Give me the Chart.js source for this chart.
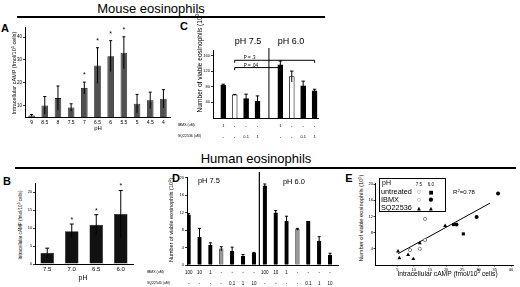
<!DOCTYPE html>
<html><head><meta charset="utf-8">
<script src="https://cdn.jsdelivr.net/npm/chart.js@4.4.0/dist/chart.umd.min.js"></script>
<style>
html,body{margin:0;padding:0;background:#fff;}
#root{position:relative;width:520px;height:287px;overflow:hidden;font-family:'Liberation Sans',Arial,Helvetica,sans-serif;color:#000;}
.box{position:absolute;}
.t{position:absolute;white-space:nowrap;line-height:1;transform:translate(-50%,-50%);}
.tl{position:absolute;white-space:nowrap;line-height:1;transform:translate(0,-50%);}
.hl{position:absolute;background:#000;}
sup{font-size:70%;vertical-align:0.5em;line-height:0;}
</style></head><body><div id="root"></div>
<script>
// ================= DATA =================
// Panel A – mouse eosinophils, intracellular cAMP vs pH
const phA = ['9','8.5','8','7.5','7','6.5','6','5.5','5','4.5','4'];
const campA = [5.6, 10.0, 13.2, 9.1, 17.6, 27.5, 31.6, 33.1, 10.7, 12.2, 12.9];
const errA  = [0.4, 3.9, 5.3, 1.6, 2.6, 7.8, 6.8, 7.0, 4.1, 3.6, 4.0];
const sigA  = [0,0,0,0,1,1,1,1,0,0,0];
const ticksA = [10,20,30,40];

// Panel B – human eosinophils, intracellular cAMP vs pH
const phB = ['7.5','7.0','6.5','6.0'];
const campB = [3.1, 9.1, 10.9, 13.9];
const errB  = [1.3, 2.0, 2.8, 6.5];
const sigB  = [0,1,1,1];
const ticksB = [0,5,10,15,20];

// Panel C – mouse, viable eosinophils (blank slot = pH separator)
const ibmxC = ['1','-','-','-','','1','-','-','-'];
const sqC   = ['-','-','0.1','1','','-','-','0.1','1'];
const viableC = [84, 59.4, 50, 42.5, null, 135.8, 106, 82.3, 69.6];
const errC    = [2.5, 1.0, 11, 14, null, 10, 14, 12, 4];
const ticksC = [40,80,120,160];
const sepC = 4;
const pLinesC = [
  {from:1, to:8, level:147.7, label:'P = .3'},
  {from:1, to:5, level:129, label:'P = .04'}
];

// Panel D – human, viable eosinophils
const ibmxD = ['100','10','1','-','-','-','-','100','10','1','-','-','-','-'];
const sqD   = ['-','-','-','-','0.1','1','10','-','-','-','-','0.1','1','10'];
const viableD = [11.5, 6.4, 4.5, 3.7, 3.2, 2.0, 2.8, 18.2, 12.0, 10.1, 8.2, 10.0, 5.5, 2.2];
const errD    = [0.3, 2.0, 0.6, 0.5, 0.9, 0.4, 0.1, 0.4, 0.5, 1.1, 0.2, 0, 1.0, 0.5];
const ticksD = [0,4,8,12,16,20];
const sepD = 6.5;

// Panel E – viable eosinophils vs cAMP
const untreated75X = [13.5, 8.9],  untreated75Y = [11.4, 3.7];
const ibmx75X = [13.5, 11.9],      ibmx75Y = [6.2, 4.0];
const untreated60X = [25.3, 22.3], untreated60Y = [7.7, 10.0];
const ibmx60X = [36.0, 29.4, 23.2], ibmx60Y = [17.7, 11.9, 10.0];
const sq75X = [8.3, 9.9, 5.6],     sq75Y = [2.5, 1.5, 1.7];
const sq60X = [19.7, 11.9, 5.2],   sq60Y = [9.7, 5.4, 3.4];
const fitX = [5.2, 33.5],          fitY = [2.8, 15.3];
const ticksEx = [5,10,15,20,25,30,35,40];
const ticksEy = [4,8,12,16,20];

// ================= HELPERS =================
const root = document.getElementById('root');
const FONT = "'Liberation Sans', Arial, Helvetica, sans-serif";
Chart.defaults.font.family = FONT;
Chart.defaults.color = '#000';

function zip(xs, ys){ return xs.map((x,i)=>({x:x, y:ys[i]})); }

function panel(x, y, w, h, cfg){
  const d = document.createElement('div'); d.className='box';
  d.style.cssText = `left:${x}px;top:${y}px;width:${w}px;height:${h}px;`;
  const c = document.createElement('canvas'); c.width=w; c.height=h;
  c.style.width=w+'px'; c.style.height=h+'px';
  d.appendChild(c); root.appendChild(d);
  cfg.options.responsive=false; cfg.options.animation=false; cfg.options.devicePixelRatio=1;
  cfg.options.layout = Object.assign({autoPadding:false}, cfg.options.layout||{});
  cfg.options.plugins = Object.assign({legend:{display:false}, tooltip:{enabled:false}}, cfg.options.plugins||{});
  return new Chart(c, cfg);
}
function txt(html, x, y, size, o={}){
  const d = document.createElement('div');
  d.className = o.left ? 'tl' : 't';
  d.innerHTML = html;
  d.style.left=x+'px'; d.style.top=y+'px'; d.style.fontSize=size+'px';
  if (o.bold) d.style.fontWeight='bold';
  if (o.rot) d.style.transform='translate(-50%,-50%) rotate(-90deg)';
  if (o.color) d.style.color=o.color;
  if (o.family) d.style.fontFamily=o.family;
  root.appendChild(d); return d;
}
function hline(x, y, w, h){
  const d=document.createElement('div'); d.className='hl';
  d.style.cssText=`left:${x}px;top:${y}px;width:${w}px;height:${h}px;`;
  root.appendChild(d);
}
function yAxis(o){
  return {
    position:'left', min:o.min, max:o.max,
    border:{display:true, color:'#000', width:1},
    grid:{display:true, drawOnChartArea:false, drawTicks:true, tickLength:o.tl==null?2:o.tl, color:'#000', lineWidth:0.8},
    ticks:{color:'#000', font:{size:o.fs}, padding:o.pad==null?1:o.pad, autoSkip:false},
    afterFit(s){ s.width=o.w; },
    afterBuildTicks(s){ s.ticks=o.ticks.map(v=>({value:v})); }
  };
}

// error bars + significance stars
Chart.register({
  id:'errbars',
  afterDatasetsDraw(chart, args, opts){
    if (!opts || !opts.err) return;
    const ctx=chart.ctx, ys=chart.scales.y;
    const meta=chart.getDatasetMeta(0);
    const vals=chart.data.datasets[0].data;
    ctx.save();
    ctx.strokeStyle='#000'; ctx.lineWidth=opts.lw||1;
    meta.data.forEach((el,i)=>{
      const raw=vals[i]; const v=(raw&&typeof raw==='object')?raw.y:raw;
      if (v==null) return;
      const e=opts.err[i]||0; const x=el.x;
      const yt=ys.getPixelForValue(v+e), yb=ys.getPixelForValue(v-e);
      if (e>0){
        ctx.beginPath(); ctx.moveTo(x,yb); ctx.lineTo(x,yt);
        ctx.moveTo(x-opts.cap/2,yt); ctx.lineTo(x+opts.cap/2,yt); ctx.stroke();
      }
      if (opts.sig && opts.sig[i]){
        ctx.fillStyle='#000'; ctx.font=`${opts.starSize}px ${FONT}`;
        ctx.textAlign='center'; ctx.textBaseline='alphabetic';
        ctx.fillText('*', x, yt-opts.gap+opts.starSize*0.55);
      }
    });
    ctx.restore();
  }
});

// ================= TITLES =================
txt('Mouse eosinophils', 151, 8, 13);
hline(17, 16, 308, 1.5);
txt('Human eosinophils', 256, 158, 13);
hline(15, 167, 501, 1.5);
txt('A', 5, 28, 11, {bold:true});
txt('C', 184, 26, 11, {bold:true});
txt('B', 7, 181, 11, {bold:true});
txt('D', 176, 178, 11, {bold:true});
txt('E', 349, 178, 11, {bold:true});

// ================= PANEL A =================
panel(11, 21, 163, 110, {
  type:'bar',
  data:{labels:phA, datasets:[{data:campA, backgroundColor:'#505050', borderColor:'#111', borderWidth:0.8,
    barPercentage:0.5, categoryPercentage:1}]},
  options:{
    layout:{padding:{top:6,right:4,left:0,bottom:0}},
    plugins:{errbars:{err:errA, sig:sigA, cap:3, gap:9, starSize:7}},
    scales:{
      x:{type:'category', offset:true, border:{color:'#000',width:1}, grid:{display:false, drawTicks:false},
         ticks:{color:'#000', font:{size:5}, padding:2.5, maxRotation:0, autoSkip:false},
         afterFit(s){ s.height=14; }},
      y:yAxis({min:4.9, max:44.4, ticks:ticksA, fs:4.5, w:14})
    }
  }
});
txt('Intracellular cAMP (fmol/10<sup>5</sup> cells)', 15, 73, 5.5, {rot:true});
txt('pH', 98, 127.5, 6);

// ================= PANEL B =================
panel(25, 178, 112, 98, {
  type:'bar',
  data:{labels:phB, datasets:[{data:campB, backgroundColor:'#111', borderColor:'#000', borderWidth:0.5,
    barPercentage:0.55, categoryPercentage:1}]},
  options:{
    layout:{padding:{top:5,right:4,left:0,bottom:0}},
    plugins:{errbars:{err:errB, sig:sigB, cap:4, gap:6, starSize:7}},
    scales:{
      x:{type:'category', offset:true, border:{color:'#000',width:1}, grid:{display:false, drawTicks:false},
         ticks:{color:'#000', font:{size:6}, padding:1.4, maxRotation:0, autoSkip:false},
         afterFit(s){ s.height=12; }},
      y:yAxis({min:0, max:22.5, ticks:ticksB, fs:4, w:10, pad:0.7})
    }
  }
});
txt('Intracellular cAMP (fmol/10<sup>5</sup> cells)', 20.7, 225, 4.6, {rot:true});
txt('pH', 83, 276.7, 7);

// ================= PANEL C =================
const colC = ibmxC.map((v,i)=> (v==='-' && sqC[i]==='-') ? '#fff' : '#000');
panel(201, 46, 120, 95, {
  type:'bar',
  data:{datasets:[{data:viableC.map((v,i)=>({x:i,y:v})), backgroundColor:colC, borderColor:'#000',
    borderWidth:0.8, barThickness:5}]},
  options:{
    layout:{padding:{top:4,right:3,left:0,bottom:0}},
    plugins:{errbars:{err:errC, cap:3.5, lw:1}},
    scales:{
      x:{type:'linear', offset:false, min:-0.9, max:8.3, border:{color:'#000',width:1},
         grid:{display:false, drawTicks:false, offset:false},
         ticks:{color:'#000', font:{size:4, lineHeight:'10.7px'}, padding:2.6, maxRotation:0, autoSkip:false,
           callback:(v)=>{const i=Math.round(v); return [ibmxC[i], sqC[i]];}},
         afterBuildTicks(s){ s.ticks=ibmxC.map((_,i)=>({value:i})); },
         afterFit(s){ s.height=23; }},
      y:yAxis({min:0, max:174, ticks:ticksC, fs:4, w:12})
    }
  },
  plugins:[{
    id:'extraC',
    afterDraw(chart){
      const ctx=chart.ctx, xs=chart.scales.x, ys=chart.scales.y, a=chart.chartArea;
      ctx.save(); ctx.strokeStyle='#000'; ctx.lineWidth=1;
      const sx=xs.getPixelForValue(sepC);
      ctx.beginPath(); ctx.moveTo(sx, a.top-2); ctx.lineTo(sx, a.bottom); ctx.stroke();
      ctx.font=`4.5px ${FONT}`; ctx.fillStyle='#000'; ctx.textAlign='left'; ctx.textBaseline='alphabetic';
      pLinesC.forEach(p=>{
        const x1=xs.getPixelForValue(p.from), x2=xs.getPixelForValue(p.to), y=ys.getPixelForValue(p.level);
        ctx.beginPath(); ctx.moveTo(x1,y+2.5); ctx.lineTo(x1,y); ctx.lineTo(x2,y); ctx.lineTo(x2,y+2.5); ctx.stroke();
        ctx.fillText(p.label, x1+9, y-1);
      });
      ctx.restore();
    }
  }]
});
txt('Number of viable eosinophils (10<sup>3</sup>)', 200, 62, 6.6, {rot:true});
txt('pH 7.5', 248, 40.7, 9);
txt('pH 6.0', 291, 40.7, 9);
txt('IBMX (uM)', 178, 126, 3.5, {left:true});
txt('SQ22536 (uM)', 178, 136.7, 3.5, {left:true});

// ================= PANEL D =================
const colD = ibmxD.map((v,i)=> (v==='-' && sqD[i]==='-') ? '#999' : '#000');
panel(177, 171, 164, 116, {
  type:'bar',
  data:{datasets:[{data:viableD.map((v,i)=>({x:i,y:v})), backgroundColor:colD, borderColor:'#000',
    borderWidth:0.5, barThickness:3.6}]},
  options:{
    layout:{padding:{top:6,right:3,left:0,bottom:0}},
    plugins:{errbars:{err:errD, cap:3, lw:1}},
    scales:{
      x:{type:'linear', offset:false, min:-0.15, max:13.73, border:{color:'#000',width:1},
         grid:{display:false, drawTicks:false, offset:false},
         ticks:{color:'#000', font:{size:4.5, lineHeight:'11px'}, padding:2, maxRotation:0, autoSkip:false,
           callback:(v)=>{const i=Math.round(v); return [ibmxD[i], sqD[i]];}},
         afterBuildTicks(s){ s.ticks=ibmxD.map((_,i)=>({value:i})); },
         afterFit(s){ s.height=22; }},
      y:yAxis({min:0, max:20.2, ticks:ticksD, fs:4, w:10})
    }
  },
  plugins:[{
    id:'extraD',
    afterDraw(chart){
      const ctx=chart.ctx, xs=chart.scales.x, a=chart.chartArea;
      ctx.save(); ctx.strokeStyle='#000'; ctx.lineWidth=1.2;
      const sx=xs.getPixelForValue(sepD);
      ctx.beginPath(); ctx.moveTo(sx, a.top-5); ctx.lineTo(sx, a.bottom); ctx.stroke();
      ctx.restore();
    }
  }]
});
txt('Number of viable eosinophils (10<sup>5</sup>)', 172, 220, 5.5, {rot:true});
txt('pH 7.5', 209, 181, 7.5);
txt('pH 6.0', 294, 181.5, 7.5);
txt('IBMX (uM)', 147, 273, 3.5, {left:true});
txt('SQ22540 (uM)', 147, 284, 3.5, {left:true});

// ================= PANEL E =================
const openPt = {pointStyle:'circle', pointRadius:1.6, pointBackgroundColor:'#fff', pointBorderColor:'#666', pointBorderWidth:0.8};
panel(367, 179, 150, 96, {
  type:'scatter',
  data:{datasets:[
    Object.assign({label:'untreated 7.5', data:zip(untreated75X, untreated75Y)}, openPt),
    Object.assign({label:'IBMX 7.5', data:zip(ibmx75X, ibmx75Y)}, openPt),
    {label:'untreated 6.0', data:zip(untreated60X, untreated60Y), pointStyle:'rect', pointRadius:2.2, pointBackgroundColor:'#000', pointBorderColor:'#000', pointBorderWidth:0},
    {label:'IBMX 6.0', data:zip(ibmx60X, ibmx60Y), pointStyle:'circle', pointRadius:2, pointBackgroundColor:'#000', pointBorderColor:'#000', pointBorderWidth:0},
    {label:'SQ22536 7.5', data:zip(sq75X, sq75Y), pointStyle:'triangle', pointRadius:2.3, pointBackgroundColor:'#000', pointBorderColor:'#000', pointBorderWidth:0},
    {label:'SQ22536 6.0', data:zip(sq60X, sq60Y), pointStyle:'triangle', pointRadius:2.3, pointBackgroundColor:'#000', pointBorderColor:'#000', pointBorderWidth:0},
    {type:'line', label:'fit', data:zip(fitX, fitY), showLine:true, borderColor:'#000', borderWidth:1, pointRadius:0, fill:false}
  ]},
  options:{
    layout:{padding:{top:4,right:4,left:0,bottom:0}},
    scales:{
      x:{type:'linear', min:-1.9, max:40.6, border:{color:'#000',width:1},
         grid:{display:true, drawOnChartArea:false, drawTicks:true, tickLength:1.5, color:'#000', lineWidth:0.8},
         ticks:{color:'#000', font:{size:4}, padding:0.5, maxRotation:0, autoSkip:false},
         afterBuildTicks(s){ s.ticks=ticksEx.map(v=>({value:v})); },
         afterFit(s){ s.height=10; }},
      y:yAxis({min:0, max:20.3, ticks:ticksEy, fs:4, w:8, tl:1.5, pad:0.5})
    }
  }
});
txt('Number of viable eosinophils (10<sup>5</sup>)', 361.7, 218, 5.7, {rot:true});
txt('Intracellular cAMP (fmol/10<sup>5</sup> cells)', 447.5, 274, 6.7);
txt('R<sup>2</sup>=0.78', 464, 192.3, 6);
// legend box
(function(){
  const b=document.createElement('div');
  b.style.cssText='position:absolute;left:379px;top:178px;width:67px;height:34px;border:1px solid #000;background:#fff;box-sizing:border-box;';
  root.appendChild(b);
  txt('pH', 382, 182, 7, {left:true});
  txt('7.5', 419, 185, 4.5);
  txt('6.0', 431, 185, 4.5);
  txt('untreated', 381, 191.5, 7.3, {left:true});
  txt('IBMX', 381, 199.5, 7.3, {left:true});
  txt('SQ22536', 381, 207.5, 7.3, {left:true});
  const SY="'DejaVu Sans', sans-serif";
  txt('○', 419, 191.5, 4.5, {family:SY, color:'#555'});
  txt('■', 431, 191.5, 5, {family:SY});
  txt('○', 419, 199.5, 4.5, {family:SY, color:'#555'});
  txt('●', 431, 199.5, 5.5, {family:SY});
  txt('▲', 419, 207.5, 5, {family:SY});
  txt('▲', 431, 207.5, 5, {family:SY});
})();
</script></body></html>
